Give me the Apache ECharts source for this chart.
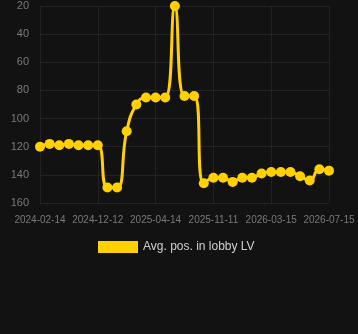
<!DOCTYPE html>
<html><head><meta charset="utf-8">
<script src="https://cdn.jsdelivr.net/npm/echarts@6/dist/echarts.min.js"></script>
<style>html,body{margin:0;padding:0;background:#121212;}#c{width:358px;height:334px;}</style>
</head><body><div id="c"></div>
<script>
const categories = ["2024-02-14","2024-04-04","2024-05-24","2024-07-13","2024-09-01","2024-10-22","2024-12-12","2025-01-02","2025-01-22","2025-02-11","2025-03-03","2025-03-24","2025-04-14","2025-05-19","2025-06-23","2025-07-28","2025-09-01","2025-10-06","2025-11-11","2025-12-01","2025-12-22","2026-01-12","2026-02-02","2026-02-23","2026-03-15","2026-04-04","2026-04-24","2026-05-14","2026-06-03","2026-06-24","2026-07-15"];
const avgPos = [120,118,119,118,119,119,119,149,149,109,90,85,85,85,20,84,84,146,142,142,145,142,142,139,138,138,138,141,144,136,137];
const seriesName = "Avg. pos. in lobby LV";
const yTicks = {min:20, max:160, interval:20};

const chart = echarts.init(document.getElementById('c'), null, {renderer:'canvas'});
chart.setOption({
  backgroundColor:'#121212',
  animation:false,
  grid:{left:40, right:29, top:6, bottom:131, containLabel:false},
  legend:{
    data:[seriesName], top:236, left:93,
    itemWidth:40, itemHeight:12,
    textStyle:{color:'#d0d0d0', fontSize:12, fontFamily:'Liberation Sans, Arial, sans-serif'},
    icon:'rect'
  },
  xAxis:{
    type:'category', data:categories, boundaryGap:false,
    axisLine:{show:false}, axisTick:{show:false},
    axisLabel:{interval:5, color:'#7a7a7a', fontSize:10, margin:12, fontFamily:'Liberation Sans, Arial, sans-serif'},
    splitLine:{show:true, interval:5, lineStyle:{color:'#222222', width:1}}
  },
  yAxis:{
    type:'value', inverse:true, min:yTicks.min, max:yTicks.max, interval:yTicks.interval,
    axisLine:{show:false}, axisTick:{show:false},
    axisLabel:{color:'#7a7a7a', fontSize:11, margin:11, fontFamily:'Liberation Sans, Arial, sans-serif'},
    splitLine:{show:true, lineStyle:{color:'#222222', width:1}}
  },
  series:[{
    name:seriesName, type:'line', data:avgPos, smooth:0.5,
    symbol:'circle', symbolSize:10, showAllSymbol:true,
    itemStyle:{color:'#FFD100'},
    lineStyle:{color:'#FFD100', width:3}
  }]
});
</script></body></html>
